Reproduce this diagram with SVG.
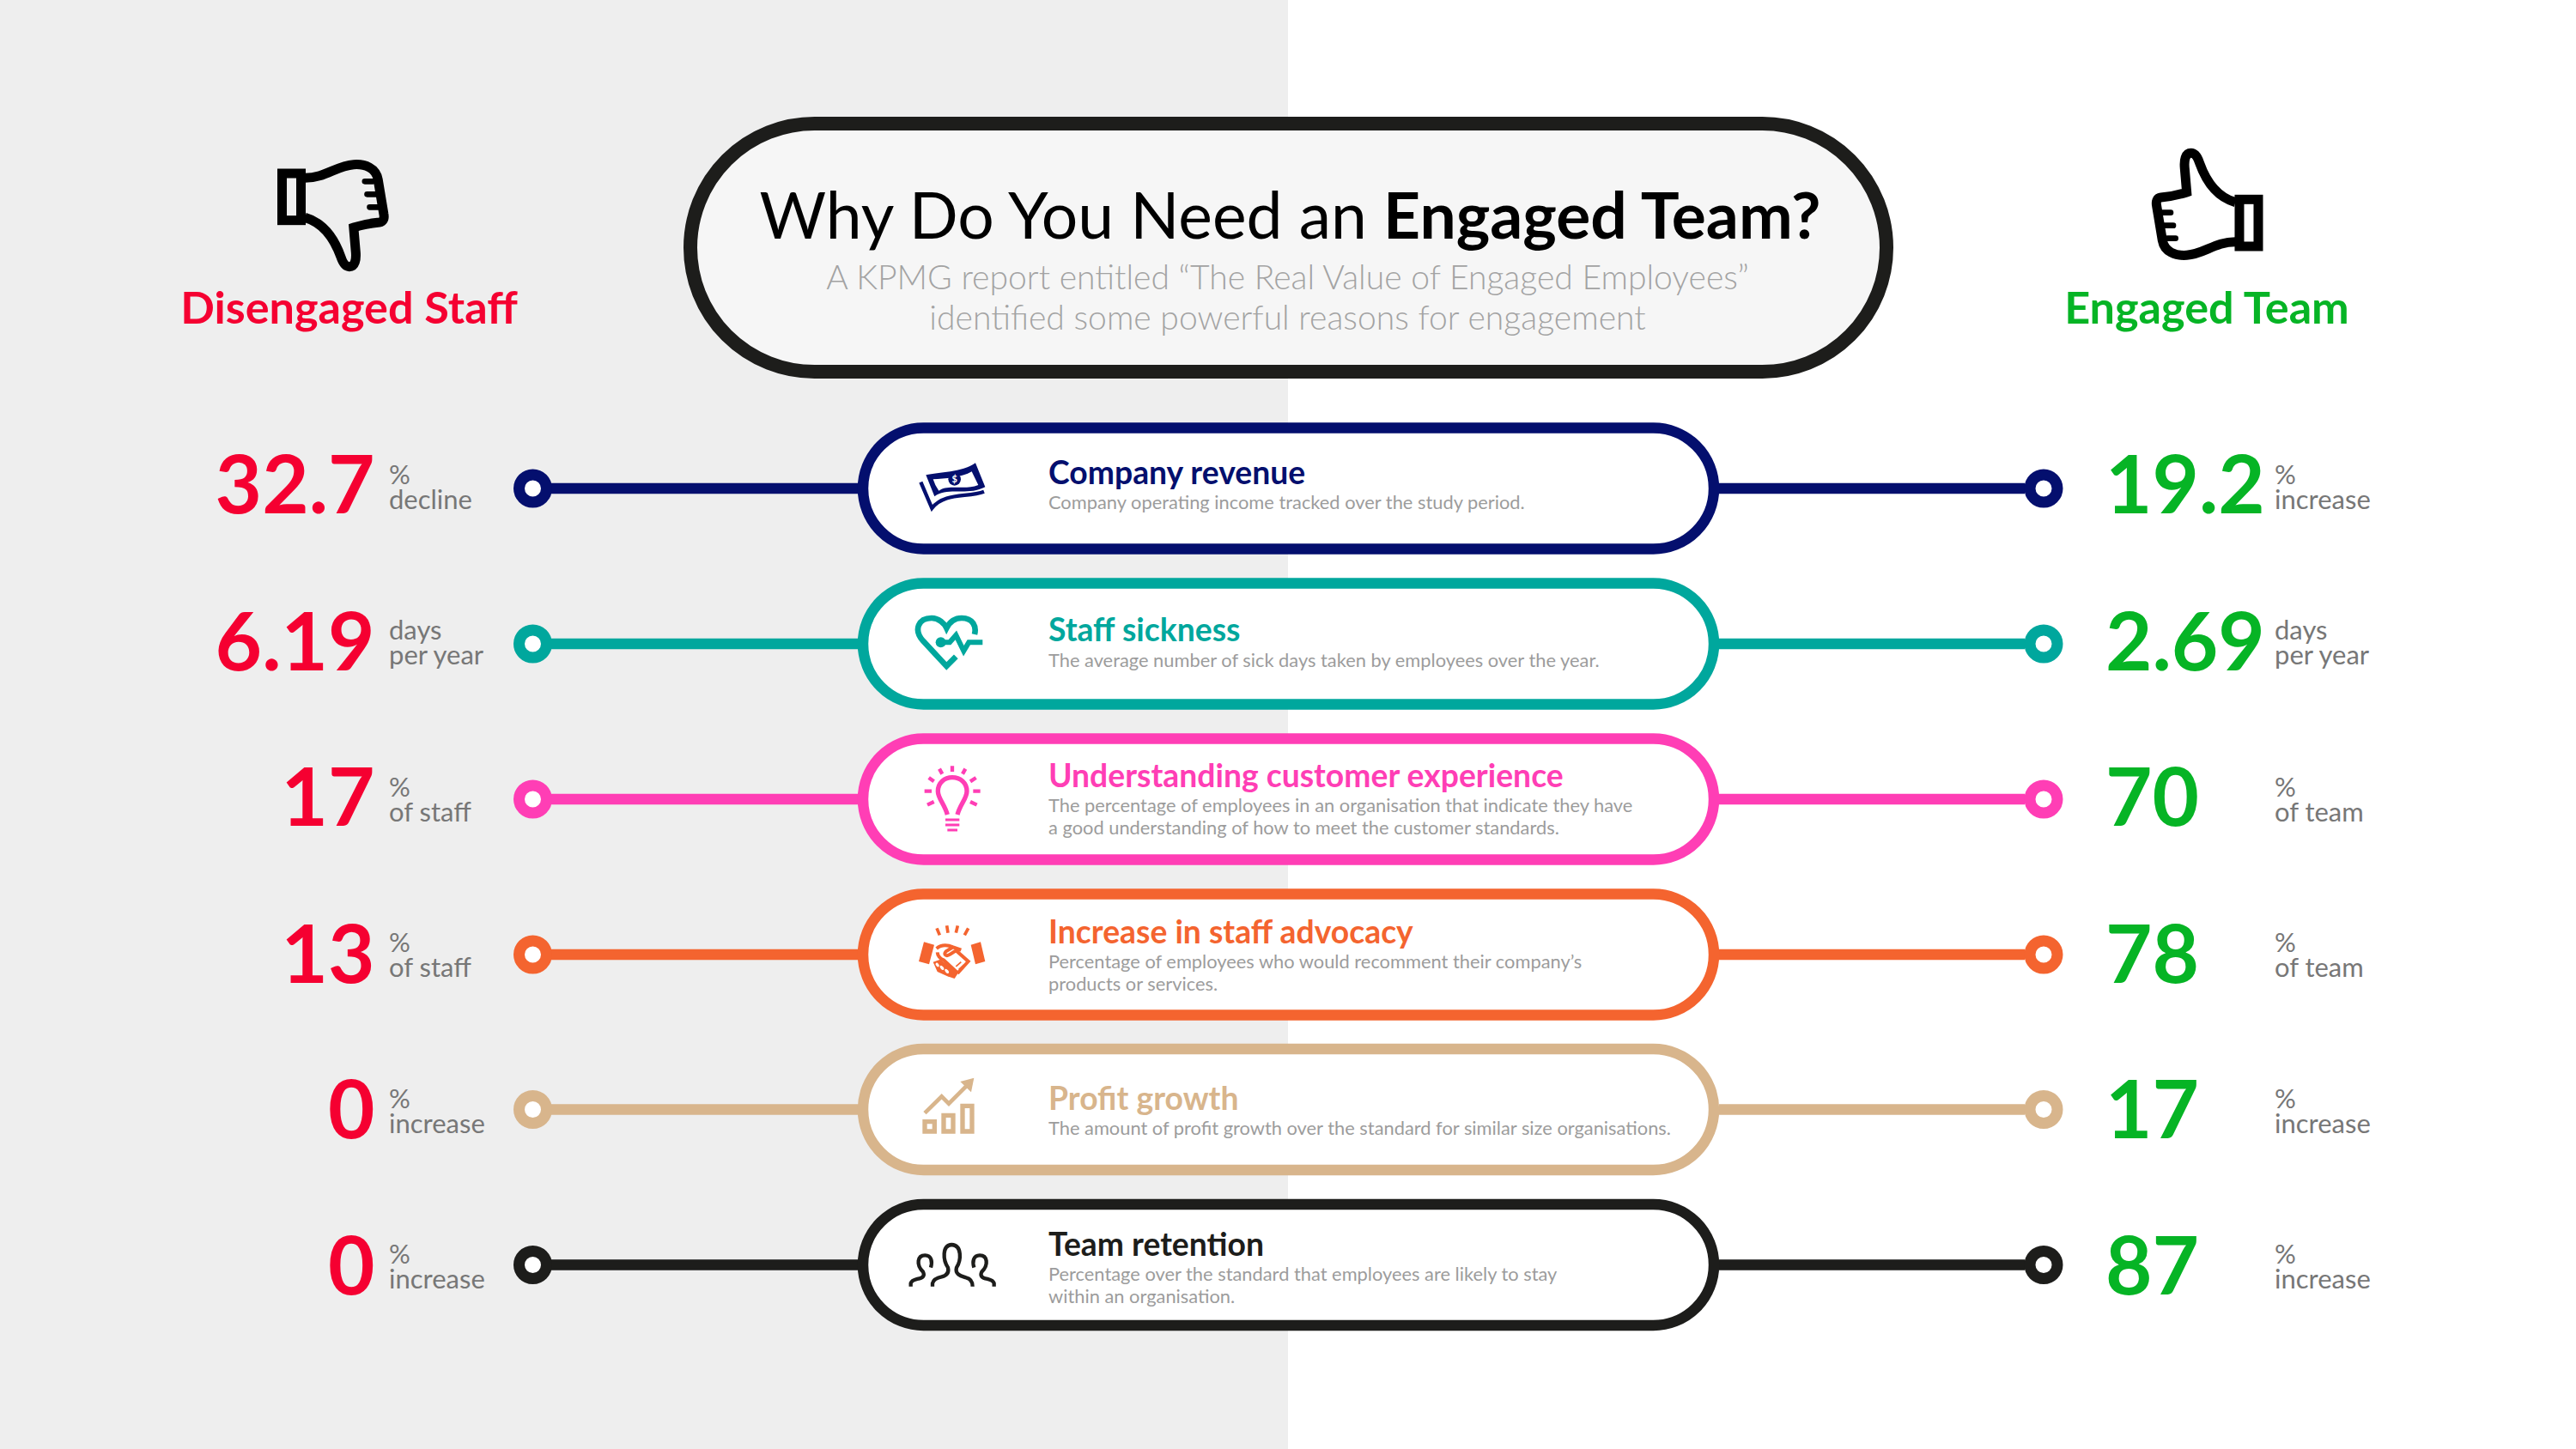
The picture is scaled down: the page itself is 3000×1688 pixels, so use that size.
<svg xmlns="http://www.w3.org/2000/svg" xmlns:xlink="http://www.w3.org/1999/xlink" width="3000" height="1688" viewBox="0 0 3000 1688">
<style>
text{font-family:Lato,"Open Sans","Liberation Sans",sans-serif}
.pill{fill:#fff;stroke-width:12.5}
.dot{fill:#fff;stroke-width:13}
.line{stroke-width:12.5;fill:none}
.num{font-size:94px;font-weight:700}
.red{fill:#f50031}.grn{fill:#06b425}
.end{text-anchor:end}
.unit{font-size:31px;fill:#777}
.t{font-size:37.300px;font-weight:700}
.d{font-size:21.850px;fill:#9c9c9c}
.navy{stroke:#040f6e}.teal{stroke:#00a79d}.pink{stroke:#ff3eb5}.orange{stroke:#f4642f}.tan{stroke:#d8b58c}.blk{stroke:#1d1d1b}
.fn{fill:#040f6e}.ft{fill:#00a79d}.fp{fill:#ff3eb5}.fo{fill:#f4642f}.fa{fill:#d8b58c}.fb{fill:#1d1d1b}
.ic{fill:none;stroke-linejoin:miter}
</style>
<defs>
<g id="thumb" transform="translate(2450 150) scale(.3333)" fill="none" stroke="#000">
<rect x="474" y="247" width="66" height="164" stroke-width="33"/>
<path stroke-width="33" d="M460 257C400 240 360 190 335 120C325 90 315 85 305 85C285 85 280 110 283 140L290 222C250 235 220 238 200 240C185 242 182 255 185 270L205 390C212 430 250 445 290 442C350 438 390 395 460 395"/>
<path stroke-width="20" stroke-linecap="round" d="M205 293H234M212 338H243M222 383H251"/>
</g>
</defs>
<rect id="bg-white" width="3000" height="1688" fill="#fff"/>
<rect id="bg-grey" width="1500" height="1688" fill="#eee"/>

<g id="connectors">
<path class="line navy" d="M642 569H1000M2002 569H2358"/>
<path class="line teal" d="M642 750H1000M2002 750H2358"/>
<path class="line pink" d="M642 931H1000M2002 931H2358"/>
<path class="line orange" d="M642 1112H1000M2002 1112H2358"/>
<path class="line tan" d="M642 1292.500H1000M2002 1292.500H2358"/>
<path class="line blk" d="M642 1473.500H1000M2002 1473.500H2358"/>
<circle class="dot navy" cx="620.500" cy="569" r="16"/><circle class="dot navy" cx="2380" cy="569" r="16"/>
<circle class="dot teal" cx="620.500" cy="750" r="16"/><circle class="dot teal" cx="2380" cy="750" r="16"/>
<circle class="dot pink" cx="620.500" cy="931" r="16"/><circle class="dot pink" cx="2380" cy="931" r="16"/>
<circle class="dot orange" cx="620.500" cy="1112" r="16"/><circle class="dot orange" cx="2380" cy="1112" r="16"/>
<circle class="dot tan" cx="620.500" cy="1292.500" r="16"/><circle class="dot tan" cx="2380" cy="1292.500" r="16"/>
<circle class="dot blk" cx="620.500" cy="1473.500" r="16"/><circle class="dot blk" cx="2380" cy="1473.500" r="16"/>
</g>

<g id="title">
<rect x="804" y="144" width="1393" height="289" rx="144.500" fill="#f6f6f6" stroke="#1d1d1b" stroke-width="16"/>
<text x="1502.500" y="278" text-anchor="middle" font-size="75" fill="#000">Why Do You Need an <tspan font-weight="700">Engaged Team?</tspan></text>
<text x="1499.500" y="337" text-anchor="middle" font-size="39.100" font-weight="300" fill="#a3a3a3">A KPMG report entitled “The Real Value of Engaged Employees”</text>
<text x="1499.500" y="384" text-anchor="middle" font-size="39.100" font-weight="300" fill="#a3a3a3">identified some powerful reasons for engagement</text>
</g>

<g id="disengaged-head">
<use xlink:href="#thumb" href="#thumb" transform="translate(2958.500 489) scale(-1 -1)"/>
<text x="406.500" y="376.500" text-anchor="middle" font-size="52.200" font-weight="700" class="red">Disengaged Staff</text>
</g>
<g id="engaged-head">
<use xlink:href="#thumb" href="#thumb"/>
<text x="2570" y="376.500" text-anchor="middle" font-size="52.200" font-weight="700" class="grn">Engaged Team</text>
</g>

<g id="left-1"><text x="436.500" y="598" class="num red end">32.7</text><text x="453" y="564" class="unit">%</text><text x="453" y="593" class="unit">decline</text></g>
<g id="left-2"><text x="436.500" y="781" class="num red end">6.19</text><text x="453" y="745" class="unit">days</text><text x="453" y="774" class="unit">per year</text></g>
<g id="left-3"><text x="436.500" y="962" class="num red end">17</text><text x="453" y="928" class="unit">%</text><text x="453" y="957" class="unit">of staff</text></g>
<g id="left-4"><text x="436.500" y="1145" class="num red end">13</text><text x="453" y="1109" class="unit">%</text><text x="453" y="1138" class="unit">of staff</text></g>
<g id="left-5"><text x="436.500" y="1326" class="num red end">0</text><text x="453" y="1291" class="unit">%</text><text x="453" y="1320" class="unit">increase</text></g>
<g id="left-6"><text x="436.500" y="1508" class="num red end">0</text><text x="453" y="1472" class="unit">%</text><text x="453" y="1501" class="unit">increase</text></g>

<g id="right-1"><text x="2452" y="598" class="num grn">19.2</text><text x="2649" y="564" class="unit">%</text><text x="2649" y="593" class="unit">increase</text></g>
<g id="right-2"><text x="2452" y="781" class="num grn">2.69</text><text x="2649" y="745" class="unit">days</text><text x="2649" y="774" class="unit">per year</text></g>
<g id="right-3"><text x="2452" y="962" class="num grn">70</text><text x="2649" y="928" class="unit">%</text><text x="2649" y="957" class="unit">of team</text></g>
<g id="right-4"><text x="2452" y="1145" class="num grn">78</text><text x="2649" y="1109" class="unit">%</text><text x="2649" y="1138" class="unit">of team</text></g>
<g id="right-5"><text x="2452" y="1326" class="num grn">17</text><text x="2649" y="1291" class="unit">%</text><text x="2649" y="1320" class="unit">increase</text></g>
<g id="right-6"><text x="2452" y="1508" class="num grn">87</text><text x="2649" y="1472" class="unit">%</text><text x="2649" y="1501" class="unit">increase</text></g>

<g id="node-revenue">
<rect class="pill navy" x="1005" y="498.500" width="991" height="141" rx="70.500"/>
<g transform="translate(1060 530) scale(.3333)">
<path class="fn" d="M55 70C100 60 180 62 228 28L262 112C200 145 130 110 85 145Z"/>
<path fill="#fff" d="M80 85C120 82 180 80 215 58L238 105C190 125 130 100 100 125L88 105Z"/>
<circle class="fn" cx="155" cy="85" r="22"/>
<text x="155" y="97" font-size="33" font-weight="700" fill="#fff" text-anchor="middle">$</text>
<path class="ic navy" stroke-width="13" d="M37 95L76 186C120 130 200 150 258 128"/>
</g>
<text x="1221" y="564" class="t" fill="#040f6e">Company revenue</text>
<text x="1221" y="593" class="d">Company operating income tracked over the study period.</text>
</g>

<g id="node-sickness">
<rect class="pill teal" x="1005" y="679.500" width="991" height="141" rx="70.500"/>
<g transform="translate(1000 480) scale(.3333)">
<path class="ic teal" stroke-width="20" d="M340 855L307 888L225 800C190 760 210 720 255 720C280 720 300 740 307 755C320 730 340 720 360 720C400 720 412 750 405 777"/>
<circle class="ft" cx="287" cy="805" r="18"/>
<path class="ic teal" stroke-width="18" d="M287 805H318L340 780L367 835L385 805H433"/>
</g>
<text x="1221" y="747" class="t" fill="#00a79d">Staff sickness</text>
<text x="1221" y="777" class="d">The average number of sick days taken by employees over the year.</text>
</g>

<g id="node-customer">
<rect class="pill pink" x="1005" y="860.500" width="991" height="141" rx="70.500"/>
<g transform="translate(1000 850) scale(.3333)">
<path class="ic pink" stroke-width="16" d="M310 297C300 260 277 240 277 215C277 185 300 167 327 167C355 167 378 185 378 215C378 240 355 260 345 297"/>
<path class="ic pink" stroke-width="9" d="M303 315H352M303 333H352"/>
<path class="ic pink" stroke-width="9" d="M310 351H345"/>
<path class="ic pink" stroke-width="13" d="M327 127V147M282 137L292 155M373 137L363 155M245 168L263 181M410 168L390 181M230 215H255M400 215H425M240 263L263 252M413 263L390 252"/>
</g>
<text x="1221" y="917" class="t" fill="#ff3eb5">Understanding customer experience</text>
<text x="1221" y="946" class="d">The percentage of employees in an organisation that indicate they have</text>
<text x="1221" y="972" class="d">a good understanding of how to meet the customer standards.</text>
</g>

<g id="node-advocacy">
<rect class="pill orange" x="1005" y="1041.500" width="991" height="141" rx="70.500"/>
<g transform="translate(1060 1070) scale(.3333)">
<path class="fo" d="M48 82L84 92L66 160L30 150ZM212 92L246 82L262 150L228 160Z"/>
<path class="ic orange" stroke-width="11" d="M93 34L103 58M128 25L132 50M166 25L160 50M203 34L190 58"/>
<path class="ic orange" stroke-width="12" stroke-linejoin="round" d="M92 105C110 90 130 92 150 100L178 110M150 100L125 115C115 125 125 135 140 125L160 112L203 150L165 192M95 118C96 130 105 140 118 146L165 190"/>
<path class="fo" d="M80 152L105 143L168 190L155 210L130 202L95 186Z"/>
<g fill="#fff"><ellipse cx="95" cy="162" rx="8" ry="5" transform="rotate(50 95 162)"/><ellipse cx="111" cy="172" rx="9" ry="5" transform="rotate(50 111 172)"/><ellipse cx="128" cy="184" rx="9" ry="5" transform="rotate(50 128 184)"/></g>
<path fill="none" stroke="#f4642f" stroke-width="5" d="M160 168L178 152M170 178L188 162"/>
</g>
<text x="1221" y="1099" class="t" fill="#f4642f">Increase in staff advocacy</text>
<text x="1221" y="1128" class="d">Percentage of employees who would recomment their company’s</text>
<text x="1221" y="1154" class="d">products or services.</text>
</g>

<g id="node-profit">
<rect class="pill tan" x="1005" y="1222" width="991" height="141" rx="70.500"/>
<g transform="translate(1000 1220) scale(.3333)">
<path class="ic tan" stroke-width="16" d="M231 260H265V294H231ZM297 238H330V294H297ZM363 205H396V294H363Z"/>
<path class="ic tan" stroke-width="14" d="M231 230L290 172L315 197L380 132"/>
<path class="fa" d="M403 107L355 120L393 157Z"/>
</g>
<text x="1221" y="1293" class="t" fill="#d8b58c">Profit growth</text>
<text x="1221" y="1322" class="d">The amount of profit growth over the standard for similar size organisations.</text>
</g>

<g id="node-retention">
<rect class="pill blk" x="1005" y="1403" width="991" height="141" rx="70.500"/>
<g transform="translate(1000 1220) scale(.3333)">
<path class="ic blk" stroke-width="13" d="M258 836V825Q262 808 290 802Q318 795 312 770C295 745 290 692 325 690C362 692 358 745 342 770C335 795 360 800 375 805Q398 810 398 836"/>
<path class="ic blk" stroke-width="13" d="M182 836V825Q185 815 205 810Q235 805 225 785C200 760 205 727 232 727C255 727 258 750 252 770"/>
<path class="ic blk" stroke-width="13" d="M473 836V825Q470 815 450 810Q420 805 430 785C455 760 450 727 423 727C400 727 397 750 403 770"/>
</g>
<text x="1221" y="1463" class="t" fill="#1d1d1b">Team retention</text>
<text x="1221" y="1492" class="d">Percentage over the standard that employees are likely to stay</text>
<text x="1221" y="1518" class="d">within an organisation.</text>
</g>
</svg>
